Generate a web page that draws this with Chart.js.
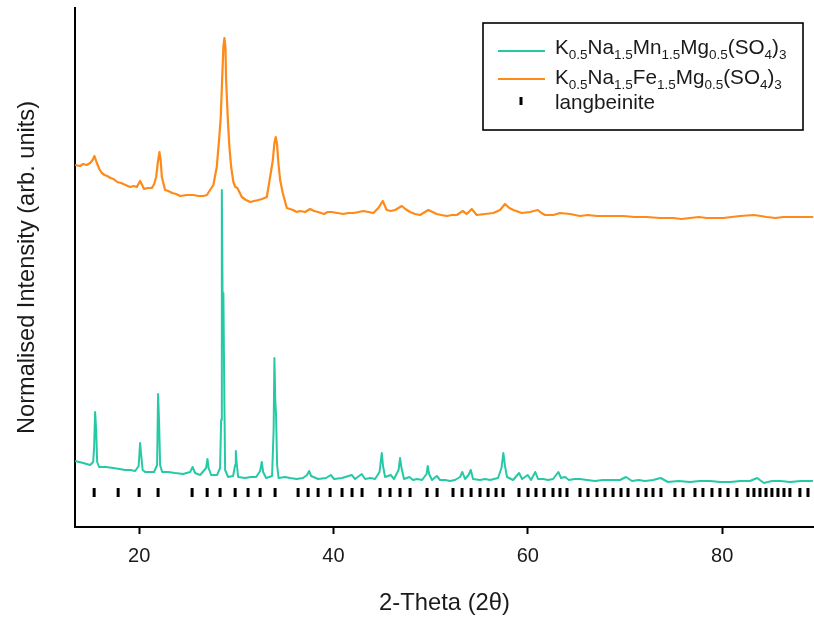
<!DOCTYPE html>
<html>
<head>
<meta charset="utf-8">
<title>XRD patterns</title>
<script src="https://cdn.jsdelivr.net/npm/chart.js@4.4.1/dist/chart.umd.min.js"></script>
<style>
  html, body { margin: 0; padding: 0; background: #fff; }
  #wrap { width: 814px; height: 623px; position: relative; }
</style>
</head>
<body>
<div id="wrap"><canvas id="xrd" width="814" height="623"></canvas></div>
<script>
// 2θ positions and normalised intensities (arbitrary units)
const mnTheta = [13.42,14.24,14.96,15.27,15.37,15.47,15.58,15.68,15.88,16.60,17.33,18.00,18.56,19.10,19.59,19.95,20.10,20.21,20.36,20.62,21.10,21.54,21.85,21.95,22.06,22.16,22.37,23.00,23.70,24.53,25.25,25.50,25.76,26.28,26.89,27.03,27.15,27.41,28.02,28.33,28.44,28.51,28.59,28.67,28.77,28.85,29.16,29.67,29.88,29.95,30.03,30.19,30.91,31.50,32.04,32.45,32.62,32.76,33.07,33.68,33.84,33.92,34.01,34.09,34.20,34.35,35.00,35.53,36.20,36.87,37.28,37.49,37.70,38.42,39.24,39.72,40.06,40.88,41.88,42.22,42.91,43.25,43.80,44.28,44.74,44.97,45.10,45.31,45.89,46.23,46.70,46.85,47.00,47.26,47.81,48.19,48.60,49.12,49.58,49.70,49.84,50.14,50.63,50.97,51.50,52.00,52.50,53.03,53.26,53.54,53.90,54.13,54.36,55.08,55.60,56.11,56.93,57.29,57.48,57.65,57.86,58.48,59.10,59.41,59.99,60.33,60.77,61.05,61.60,62.08,62.60,63.14,63.42,63.83,64.24,64.80,65.37,66.10,66.91,67.70,68.46,69.49,70.10,70.72,71.40,72.06,72.90,73.67,74.42,75.50,76.69,77.70,78.75,79.80,80.80,81.90,82.86,83.60,84.30,85.12,86.00,86.97,88.10,89.34,89.60];
const mnIntensity = [66,64,62,65,80,115,97,65,60,60,59,58,57,57,56,61,84,72,57,55,55,55,62,133,102,62,55,55,54,53,55,60,54,52,59,68,59,52,52,59,107,337,227,234,127,57,50,51,62,76,65,50,49,50,50,56,65,55,49,51,97,169,127,112,62,49,50,49,48,49,52,56,51,48,49,52,48,49,52,48,53,48,49,48,55,74,61,50,52,48,57,69,59,48,50,47,48,47,53,61,53,47,51,47,47,46,47,50,55,48,52,57,48,47,48,47,49,59,74,61,50,47,54,48,52,47,55,48,48,47,48,55,49,50,47,48,48,47,46,47,47,47,50,46,47,46,47,49,45,46,45,46,46,45,45,46,46,49,44,46,46,45,46,46];

const feTheta = [13.42,13.90,14.24,14.60,14.96,15.22,15.40,15.65,15.90,16.16,16.45,16.71,17.05,17.36,17.75,18.15,18.60,19.07,19.45,19.76,20.10,20.51,20.90,21.31,21.55,21.75,21.93,22.09,22.21,22.34,22.67,23.00,23.40,23.80,24.22,24.90,25.59,26.10,26.62,26.97,27.30,27.64,27.99,28.25,28.40,28.54,28.67,28.78,28.88,28.95,29.13,29.29,29.47,29.70,29.90,30.11,30.57,31.00,31.42,31.85,32.27,32.65,33.14,33.48,33.76,33.92,34.06,34.20,34.33,34.51,34.78,35.20,35.84,36.20,36.56,37.08,37.59,38.00,38.42,39.03,39.40,39.82,40.40,41.02,41.50,42.05,42.60,43.08,43.60,44.11,44.62,45.07,45.48,45.90,46.34,47.03,47.40,47.88,48.40,48.91,49.76,50.20,50.63,51.10,51.66,52.20,52.69,53.30,53.71,54.23,54.74,55.60,56.45,57.14,57.65,58.10,58.51,59.37,60.23,61.02,61.40,61.77,62.62,63.31,64.34,65.37,66.20,67.09,68.50,69.83,71.00,72.23,73.60,74.97,75.80,76.69,77.60,78.41,80.10,81.84,83.30,84.58,85.50,86.29,87.80,89.37,89.60];
const feIntensity = [362,361,363,362,364,367,371,364,358,354,352,351,349,348,345,344,342,340,341,340,346,338,339,339,343,350,365,375,367,350,337,336,334,333,331,332,332,331,331,332,337,342,360,390,410,447,480,489,480,447,407,380,360,345,340,339,330,327,325,326,327,328,330,350,367,384,390,382,364,347,334,319,317,315,316,315,318,316,315,313,315,315,314,313,314,314,315,316,315,314,319,326,317,316,317,321,318,315,313,312,317,315,313,312,311,312,312,316,313,318,312,313,314,317,323,319,317,314,315,317,314,312,312,314,313,311,312,311,311,311,310,310,309,309,308,309,310,309,309,311,312,310,309,310,310,310];

// Reference reflections (langbeinite), 2θ
const langbeiniteTheta = [15.37,17.84,20.00,21.95,25.45,27.00,28.33,29.88,31.21,32.45,33.99,36.36,37.39,38.42,39.65,40.88,41.91,42.94,44.79,45.82,46.85,47.88,49.63,50.66,52.30,53.23,54.16,55.08,55.91,56.73,57.45,59.09,60.02,60.84,61.67,62.59,63.31,64.03,65.37,66.19,67.12,67.94,68.77,69.59,70.31,71.34,72.16,72.88,73.70,75.14,75.97,77.20,78.02,78.95,79.77,80.60,81.52,82.65,83.27,83.89,84.51,85.12,85.74,86.36,86.97,88.00,88.83];
const langbeiniteLevel = 34.5;

const xTicks = [20, 40, 60, 80];

const GREEN = '#26c9a5';
const ORANGE = '#ff8a17';
const INK = '#1a1a1a';
const FONT = '"Liberation Sans", Arial, sans-serif';

const zip = (xs, ys) => xs.map((x, i) => ({ x, y: ys[i] }));

// Legend with chemical-formula subscripts
const formulaLegend = {
  id: 'formulaLegend',
  afterDraw(chart) {
    const ctx = chart.ctx;
    const bx = 483, by = 23, bw = 320, bh = 107;
    ctx.save();
    ctx.lineWidth = 1.6;
    ctx.strokeStyle = '#000';
    ctx.fillStyle = '#fff';
    ctx.fillRect(bx, by, bw, bh);
    ctx.strokeRect(bx, by, bw, bh);

    const entries = [
      { kind: 'line', color: GREEN, y: 51, base: 54,
        parts: [['K',0],['0.5',1],['Na',0],['1.5',1],['Mn',0],['1.5',1],['Mg',0],['0.5',1],['(SO',0],['4',1],[')',0],['3',1]] },
      { kind: 'line', color: ORANGE, y: 79, base: 84,
        parts: [['K',0],['0.5',1],['Na',0],['1.5',1],['Fe',0],['1.5',1],['Mg',0],['0.5',1],['(SO',0],['4',1],[')',0],['3',1]] },
      { kind: 'tick', color: '#000', y: 101, base: 109, parts: [['langbeinite',0]] }
    ];
    ctx.textBaseline = 'alphabetic';
    ctx.textAlign = 'left';
    entries.forEach(e => {
      if (e.kind === 'line') {
        ctx.strokeStyle = e.color;
        ctx.lineWidth = 2;
        ctx.beginPath();
        ctx.moveTo(498, e.y);
        ctx.lineTo(545, e.y);
        ctx.stroke();
      } else {
        ctx.strokeStyle = e.color;
        ctx.lineWidth = 3;
        ctx.beginPath();
        ctx.moveTo(521, e.y - 4);
        ctx.lineTo(521, e.y + 4);
        ctx.stroke();
      }
      let x = 555;
      e.parts.forEach(([t, sub]) => {
        ctx.fillStyle = INK;
        if (sub) {
          ctx.font = '13.5px ' + FONT;
          ctx.fillText(t, x, e.base + 5);
        } else {
          ctx.font = '20.7px ' + FONT;
          ctx.fillText(t, x, e.base);
        }
        x += ctx.measureText(t).width;
      });
    });
    ctx.restore();
  }
};

new Chart(document.getElementById('xrd'), {
  type: 'scatter',
  data: {
    datasets: [
      {
        label: 'K0.5Na1.5Mn1.5Mg0.5(SO4)3',
        data: zip(mnTheta, mnIntensity),
        showLine: true,
        borderColor: GREEN,
        borderWidth: 2,
        borderJoinStyle: 'round',
        pointRadius: 0,
        tension: 0
      },
      {
        label: 'K0.5Na1.5Fe1.5Mg0.5(SO4)3',
        data: zip(feTheta, feIntensity),
        showLine: true,
        borderColor: ORANGE,
        borderWidth: 2.2,
        borderJoinStyle: 'round',
        pointRadius: 0,
        tension: 0
      },
      {
        label: 'langbeinite',
        data: langbeiniteTheta.map(t => ({ x: t, y: langbeiniteLevel })),
        showLine: false,
        pointStyle: 'line',
        rotation: 90,
        pointRadius: 4.5,
        borderWidth: 3,
        borderColor: '#000',
        backgroundColor: '#000'
      }
    ]
  },
  options: {
    responsive: false,
    animation: false,
    events: [],
    layout: { autoPadding: false, padding: { top: 8, right: 0, bottom: 0, left: 0 } },
    plugins: {
      legend: { display: false },
      tooltip: { enabled: false }
    },
    scales: {
      x: {
        type: 'linear',
        min: 13.4,
        max: 89.45,
        afterFit(s) { s.height = 96; },
        afterBuildTicks(s) { s.ticks = xTicks.map(v => ({ value: v })); },
        ticks: {
          includeBounds: false,
          color: INK,
          padding: 10,
          font: { family: FONT, size: 20 },
          maxRotation: 0
        },
        grid: {
          display: true,
          drawOnChartArea: false,
          drawTicks: true,
          tickLength: 7,
          tickWidth: 2,
          tickColor: '#000'
        },
        border: { display: true, color: '#000', width: 2 },
        title: {
          display: true,
          text: '2-Theta (2θ)',
          color: INK,
          font: { family: FONT, size: 23.8 },
          padding: { top: 0, bottom: 5 }
        }
      },
      y: {
        type: 'linear',
        min: 0,
        max: 519,
        afterFit(s) { s.width = 75; },
        ticks: { display: false },
        grid: { display: false, drawTicks: false },
        border: { display: true, color: '#000', width: 2 },
        title: {
          display: true,
          text: 'Normalised Intensity (arb. units)',
          color: INK,
          font: { family: FONT, size: 23.6 },
          padding: { top: 13, bottom: 0 }
        }
      }
    }
  },
  plugins: [formulaLegend]
});
</script>
</body>
</html>
